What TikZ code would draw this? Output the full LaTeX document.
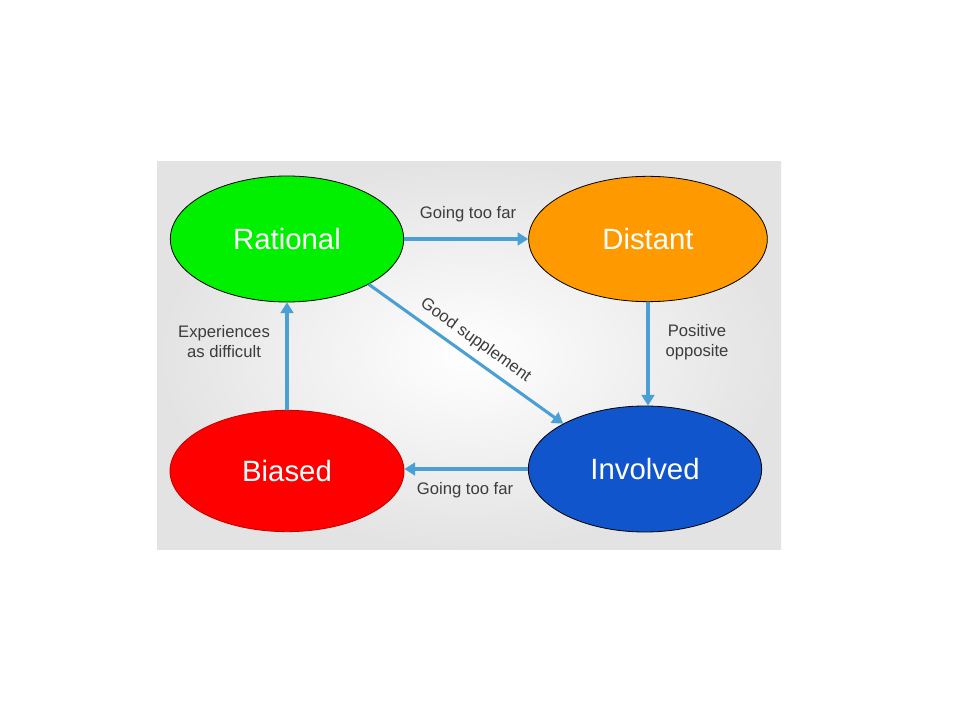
\documentclass[tikz,border=0pt]{standalone}
\usepackage{fontspec}
\setmainfont{Liberation Sans}
\usetikzlibrary{shapes.geometric,arrows.meta}
\definecolor{arrowblue}{HTML}{4A9FD5}
\definecolor{rgreen}{HTML}{00F000}
\definecolor{dorange}{HTML}{FF9900}
\definecolor{bred}{HTML}{FF0000}
\definecolor{iblue}{HTML}{1155CC}
\definecolor{labelgray}{HTML}{3C3C3C}
\begin{document}
\begin{tikzpicture}[x=0.75pt,y=-0.75pt,
  state/.style={ellipse, inner sep=0pt, text=white, font=\fontsize{22}{26}\selectfont,
    line width=0.6pt},
  conn/.style={draw=arrowblue, line width=2.3pt, -{Triangle[length=8pt,width=9.5pt]}},
  lbl/.style={text=labelgray, font=\fontsize{12.5}{15}\selectfont, align=center}]
\useasboundingbox (0,0) rectangle (960,720);
\fill[white] (0,0) rectangle (960,720);
\shade[inner color=white, outer color=black!11] (157,162) rectangle (781,549);
\node[state, fill=rgreen, draw=black, minimum width=175pt, minimum height=94.5pt] (R) at (287,239) {Rational};
\node[state, fill=dorange, draw=black, minimum width=179pt, minimum height=94pt] (D) at (648,239) {Distant};
\node[state, fill=bred, draw=red!75!black, minimum width=175.5pt, minimum height=91pt] (B) at (287,471) {Biased};
\node[state, fill=iblue, draw=black, minimum width=175pt, minimum height=94.5pt] (I) at (645,469) {Involved};
\draw[conn] (R) -- (D);
\draw[conn] (D.south) -- (D.south |- I.north);
\draw[conn] (I.west) -- (I.west -| B.east);
\draw[conn] (B) -- (R);
\draw[conn] (R.-29) -- node[lbl, sloped, above=2pt] {Good supplement} (I.151);
\node[lbl] (l1) at (468,214) {Going too far};
\node[lbl] (l2) at (465,490) {Going too far};
\node[lbl] (l3) at (697,342) {Positive\\opposite};
\node[lbl] (l4) at (224,342) {Experiences\\as difficult};
\end{tikzpicture}
\end{document}
